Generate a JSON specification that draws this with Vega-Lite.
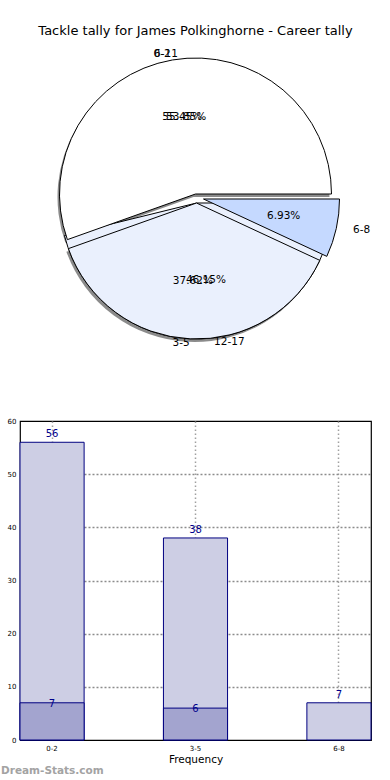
{
  "$schema": "https://vega.github.io/schema/vega-lite/v6.json",
  "padding": {"left": 0, "top": 25, "right": 0, "bottom": 0},
  "background": "white",
  "title": {"text": "Tackle tally for James Polkinghorne - Career tally", "fontSize": 13, "font": "DejaVu Sans", "fontWeight": "normal", "color": "#000", "anchor": "middle", "frame": "group", "offset": 2},
  "config": {
    "font": "DejaVu Sans",
    "view": {"stroke": "#000", "strokeWidth": 1},
    "axis": {"labelFont": "DejaVu Sans", "titleFont": "DejaVu Sans", "labelColor": "#000", "titleColor": "#000"},
    "axisY": {"labelFontSize": 7, "labelPadding": 4, "tickSize": 0, "domain": false, "grid": true, "gridDash": [2, 2], "gridColor": "#8C8C8C", "gridWidth": 1.3, "tickCount": 6, "zindex": 0},
    "axisX": {"labelFontSize": 7, "labelAngle": 0, "labelPadding": 4, "tickSize": 0, "domain": false, "grid": true, "gridDash": [1.5, 2.5], "gridColor": "#A0A0A0", "gridWidth": 1.5, "bandPosition": 0.5, "titleFontSize": 10.5, "titleFontWeight": "normal", "titlePadding": 3, "zindex": 1}
  },
  "datasets": {
    "pie": [
      {"pie": "A", "label": "0-2", "value": 56, "pct": "55.45%"},
      {"pie": "A", "label": "3-5", "value": 38, "pct": "37.62%"},
      {"pie": "A", "label": "6-8", "value": 7, "pct": "6.93%"},
      {"pie": "B", "label": "6-11", "value": 7, "pct": "53.85%"},
      {"pie": "B", "label": "12-17", "value": 6, "pct": "46.15%"}
    ],
    "bars": [
      {"range": "0-2", "total": 56, "sub": 7},
      {"range": "3-5", "total": 38, "sub": 6},
      {"range": "6-8", "total": 7, "sub": null}
    ]
  },
  "vconcat": [
    {
      "width": 351,
      "height": 308,
      "view": {"stroke": null},
      "data": {"name": "pie"},
      "encoding": {
        "theta": {"field": "value", "type": "quantitative", "stack": "normalize", "scale": {"range": [1.5708, -4.7124]}},
        "order": {"field": "value", "type": "quantitative", "sort": "descending"}
      },
      "layer": [
        {"transform": [{"filter": "datum.pie === 'A'"}], "mark": {"type": "arc", "radius": 136, "fill": "#777777", "xOffset": -2, "yOffset": 3},
         "encoding": {"opacity": {"condition": {"test": "datum.label === '0-2'", "value": 0.85}, "value": 0}}},
        {"transform": [{"filter": "datum.pie === 'A'"}], "mark": {"type": "arc", "radius": 136, "fill": "#777777", "xOffset": -1, "yOffset": 12},
         "encoding": {"opacity": {"condition": {"test": "datum.label === '3-5'", "value": 0.85}, "value": 0}}},
        {"transform": [{"filter": "datum.pie === 'B'"}], "mark": {"type": "arc", "radius": 136, "fill": "#EAF0FD", "stroke": "#000", "strokeWidth": 1, "xOffset": 1, "yOffset": 9},
         "encoding": {"opacity": {"condition": {"test": "datum.label === '12-17'", "value": 1}, "value": 0}}},
        {"transform": [{"filter": "datum.pie === 'A'"}], "mark": {"type": "arc", "radius": 136, "fill": "#FFFFFF", "stroke": "#000", "strokeWidth": 1},
         "encoding": {"opacity": {"condition": {"test": "datum.label === '0-2'", "value": 1}, "value": 0}}},
        {"transform": [{"filter": "datum.pie === 'A'"}], "mark": {"type": "arc", "radius": 136, "fill": "#EAF0FD", "stroke": "#000", "strokeWidth": 1, "xOffset": 1, "yOffset": 9},
         "encoding": {"opacity": {"condition": {"test": "datum.label === '3-5'", "value": 1}, "value": 0}}},
        {"transform": [{"filter": "datum.pie === 'A'"}], "mark": {"type": "arc", "radius": 136, "fill": "#C5D9FF", "stroke": "#000", "strokeWidth": 1, "xOffset": 8, "yOffset": 5},
         "encoding": {"opacity": {"condition": {"test": "datum.label === '6-8'", "value": 1}, "value": 0}}},

        {"transform": [{"filter": "datum.pie === 'A'"}], "mark": {"type": "text", "fontSize": 10.5, "align": "center", "baseline": "middle", "color": "#000"},
         "encoding": {"radius": {"value": 78}, "text": {"field": "pct"}, "opacity": {"condition": {"test": "datum.label === '0-2'", "value": 1}, "value": 0}}},
        {"transform": [{"filter": "datum.pie === 'A'"}], "mark": {"type": "text", "fontSize": 10.5, "align": "center", "baseline": "middle", "color": "#000", "dx": 1, "dy": 9},
         "encoding": {"radius": {"value": 78}, "text": {"field": "pct"}, "opacity": {"condition": {"test": "datum.label === '3-5'", "value": 1}, "value": 0}}},
        {"transform": [{"filter": "datum.pie === 'A'"}], "mark": {"type": "text", "fontSize": 10.5, "align": "center", "baseline": "middle", "color": "#000", "dx": 12, "dy": 5},
         "encoding": {"radius": {"value": 78}, "text": {"field": "pct"}, "opacity": {"condition": {"test": "datum.label === '6-8'", "value": 1}, "value": 0}}},
        {"transform": [{"filter": "datum.pie === 'B'"}], "mark": {"type": "text", "fontSize": 10.5, "align": "center", "baseline": "middle", "color": "#000"},
         "encoding": {"radius": {"value": 78}, "text": {"field": "pct"}, "opacity": {"condition": {"test": "datum.label === '6-11'", "value": 1}, "value": 0}}},
        {"transform": [{"filter": "datum.pie === 'B'"}], "mark": {"type": "text", "fontSize": 10.5, "align": "center", "baseline": "middle", "color": "#000", "dx": 1, "dy": 9},
         "encoding": {"radius": {"value": 78}, "text": {"field": "pct"}, "opacity": {"condition": {"test": "datum.label === '12-17'", "value": 1}, "value": 0}}},

        {"transform": [{"filter": "datum.pie === 'A'"}], "mark": {"type": "text", "fontSize": 10.5, "align": "right", "baseline": "middle", "color": "#000", "dy": 4},
         "encoding": {"radius": {"value": 146}, "text": {"field": "label"}, "opacity": {"condition": {"test": "datum.label === '0-2'", "value": 1}, "value": 0}}},
        {"transform": [{"filter": "datum.pie === 'A'"}], "mark": {"type": "text", "fontSize": 10.5, "align": "right", "baseline": "middle", "color": "#000", "dx": 1, "dy": 3},
         "encoding": {"radius": {"value": 146}, "text": {"field": "label"}, "opacity": {"condition": {"test": "datum.label === '3-5'", "value": 1}, "value": 0}}},
        {"transform": [{"filter": "datum.pie === 'A'"}], "mark": {"type": "text", "fontSize": 10.5, "align": "left", "baseline": "middle", "color": "#000", "dx": 15, "dy": 4},
         "encoding": {"radius": {"value": 146}, "text": {"field": "label"}, "opacity": {"condition": {"test": "datum.label === '6-8'", "value": 1}, "value": 0}}},
        {"transform": [{"filter": "datum.pie === 'B'"}], "mark": {"type": "text", "fontSize": 10.5, "align": "right", "baseline": "middle", "color": "#000", "dy": 5},
         "encoding": {"radius": {"value": 146}, "text": {"field": "label"}, "opacity": {"condition": {"test": "datum.label === '6-11'", "value": 1}, "value": 0}}},
        {"transform": [{"filter": "datum.pie === 'B'"}], "mark": {"type": "text", "fontSize": 10.5, "align": "left", "baseline": "middle", "color": "#000", "dx": 1, "dy": 3},
         "encoding": {"radius": {"value": 146}, "text": {"field": "label"}, "opacity": {"condition": {"test": "datum.label === '12-17'", "value": 1}, "value": 0}}}
      ]
    },
    {
      "width": 351,
      "height": 319,
      "view": {"stroke": "#000", "strokeWidth": 1.2},
      "data": {"name": "bars"},
      "title": {"text": "Dream-Stats.com", "orient": "bottom", "anchor": "start", "frame": "group", "dx": -19, "offset": 1, "fontSize": 10.5, "fontWeight": "bold", "color": "#A3A3A3", "font": "DejaVu Sans"},
      "encoding": {
        "x": {"field": "range", "type": "nominal", "sort": null, "title": "Frequency",
              "scale": {"paddingInner": 0.553, "paddingOuter": 0}}
      },
      "layer": [
        {"mark": {"type": "bar", "fill": "#CDCEE4", "stroke": "#000080", "strokeWidth": 1},
         "encoding": {"y": {"field": "total", "type": "quantitative", "title": null, "scale": {"domain": [0, 60], "nice": false},
                            "axis": {"gridOpacity": {"condition": {"test": "datum.value === 0 || datum.value === 60", "value": 0}, "value": 1}}}}},
        {"mark": {"type": "bar", "fill": "#A3A4CF", "stroke": "#000080", "strokeWidth": 1},
         "encoding": {"y": {"field": "sub", "type": "quantitative", "title": null}}},
        {"mark": {"type": "text", "fontSize": 10, "color": "#00008B", "baseline": "alphabetic", "dy": -5},
         "encoding": {"y": {"field": "total", "type": "quantitative", "title": null}, "text": {"field": "total"}}},
        {"mark": {"type": "text", "fontSize": 10, "color": "#00008B", "baseline": "alphabetic", "dy": 4},
         "encoding": {"y": {"field": "sub", "type": "quantitative", "title": null}, "text": {"field": "sub"}}}
      ]
    }
  ],
  "spacing": 73,
  "bounds": "flush"
}
